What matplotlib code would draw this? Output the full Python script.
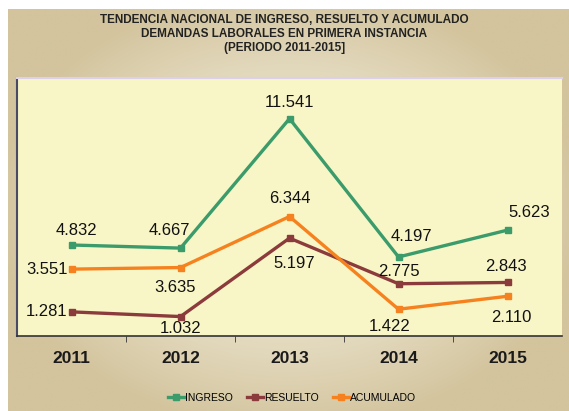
import matplotlib.pyplot as plt
import numpy as np
from matplotlib.colors import to_rgb

years = ['2011', '2012', '2013', '2014', '2015']
ingreso = [4832, 4667, 11541, 4197, 5623]
resuelto = [1281, 1032, 5197, 2775, 2843]
acumulado = [3551, 3635, 6344, 1422, 2110]

# label offsets in pixels (dx, dy) relative to each point
off_ing = [(5, 15), (-11, 18), (0, 16), (13, 20), (22, 18)]
off_res = [(-4, 0), (0, -12), (5, -25), (0, 12), (-2, 16)]
off_acu = [(-4, 0), (-5, -20), (0, 18), (-9, -17), (4, -21)]

plt.rcParams['font.family'] = ['Liberation Sans', 'DejaVu Sans']

W, H = 569, 411
fig = plt.figure(figsize=(W / 100, H / 100), dpi=100)
fig.patch.set_facecolor('white')

# beige gradient backdrop
bg = fig.add_axes([8 / W, 0, 1 - 8 / W, 1 - 9 / H])
bg.axis('off')
yy, xx = np.mgrid[-1:1:200j, -1:1:300j]
d = np.clip(np.sqrt((xx / 1.05) ** 2 + (yy / 1.1) ** 2), 0, 1) ** 1.6
c_in = np.array(to_rgb('#f0ebd9'))
c_out = np.array(to_rgb('#d3c49d'))
img = c_in[None, None, :] * (1 - d[..., None]) + c_out[None, None, :] * d[..., None]
bg.imshow(img, aspect='auto', extent=[0, 1, 0, 1])
bg.set_xlim(0, 1)
bg.set_ylim(0, 1)

ax = fig.add_axes([17 / W, (H - 336) / H, (562 - 17) / W, (336 - 78) / H])
ax.set_facecolor('#f8f6c6')
x = np.arange(len(years))

series = [
    ('INGRESO', ingreso, '#3b9b6b', off_ing),
    ('RESUELTO', resuelto, '#8b3b3b', off_res),
    ('ACUMULADO', acumulado, '#f5821f', off_acu),
]
for name, vals, col, offs in series:
    ax.plot(x, vals, color=col, lw=2.4, marker='s', ms=5, label=name, zorder=3)

for name, vals, col, offs in series:
    for i, v in enumerate(vals):
        dx, dy = offs[i]
        ha = 'right' if (i == 0 and name != 'INGRESO') else 'center'
        ax.annotate(f'{v:,}'.replace(',', '.'), (x[i], v), xytext=(dx, dy),
                    textcoords='offset pixels', ha=ha, va='center',
                    fontsize=12, color='#111111', zorder=5, annotation_clip=False)

ax.set_xlim(-0.5, 4.5)
ax.set_ylim(0, 13700)
ax.set_yticks([])
ax.set_xticks(x)
ax.set_xticklabels(years, fontsize=12.5, fontweight='bold', color='#1a1a1a')
ax.tick_params(axis='x', which='major', length=0, pad=11)
ax.set_xticks([0.5, 1.5, 2.5, 3.5], minor=True)
ax.tick_params(axis='x', which='minor', length=4, color='#333333', direction='out')
ax.spines['right'].set_visible(False)
ax.spines['top'].set_color('#dcd0ea')
ax.spines['top'].set_linewidth(1.5)
ax.spines['left'].set_color('#4a4a66')
ax.spines['left'].set_linewidth(1.5)
ax.spines['bottom'].set_color('#333333')
ax.spines['bottom'].set_linewidth(1.2)

fig.text(0.5, 1 - 14 / H,
         'TENDENCIA NACIONAL DE INGRESO, RESUELTO Y ACUMULADO\n'
         'DEMANDAS LABORALES EN PRIMERA INSTANCIA\n(PERIODO 2011-2015]',
         ha='center', va='top', fontsize=8.5, fontweight='bold',
         color='#222222', linespacing=1.2)

fig.legend(loc='center', bbox_to_anchor=(292 / W, 1 - 398 / H), ncol=3,
           frameon=False, fontsize=7.5, handlelength=1.5, handletextpad=0.1,
           columnspacing=1.4, markerscale=0.8)

fig.savefig('out.png', dpi=100)
